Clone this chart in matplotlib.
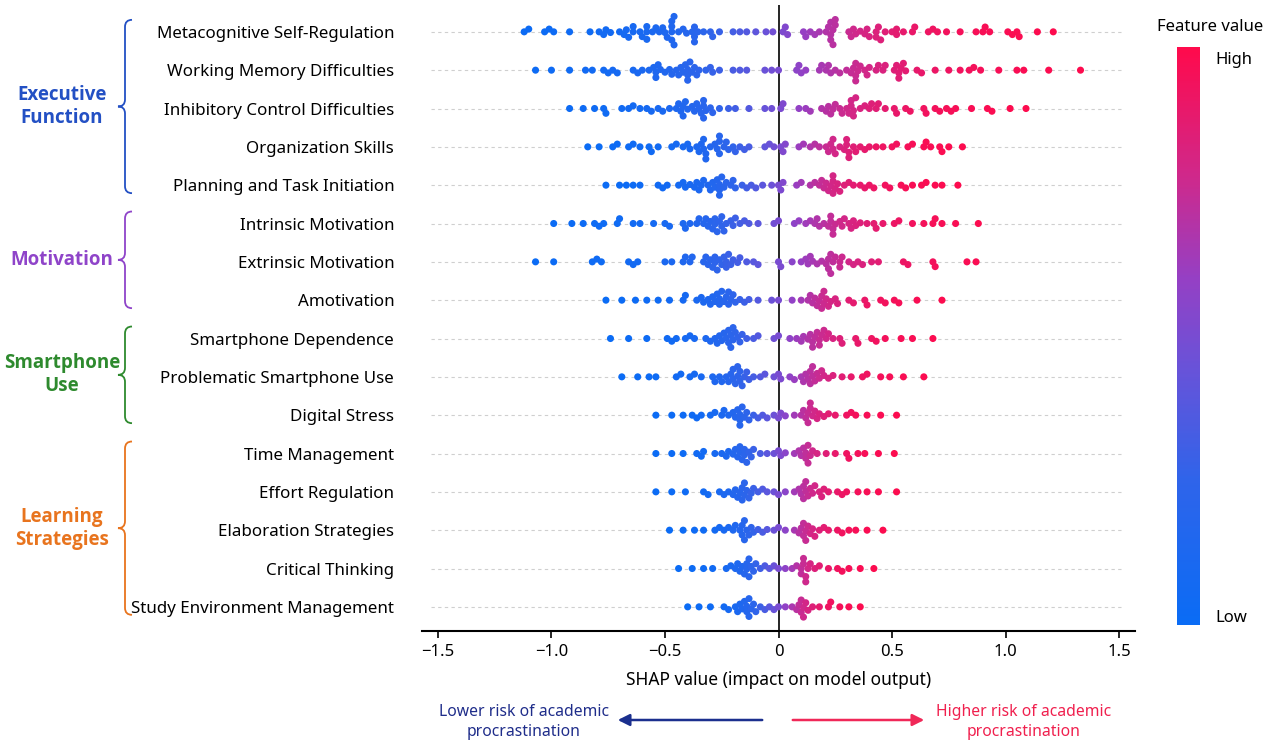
import numpy as np
import matplotlib
matplotlib.use("Agg")
import matplotlib.pyplot as plt
from matplotlib.colors import LinearSegmentedColormap, Normalize
from matplotlib.path import Path
from matplotlib.patches import PathPatch, FancyArrowPatch
from matplotlib.colorbar import ColorbarBase

plt.rcParams['font.family'] = ['Noto Sans', 'DejaVu Sans']

# ---------------- data ----------------
features = ["Metacognitive Self-Regulation", "Working Memory Difficulties",
            "Inhibitory Control Difficulties", "Organization Skills",
            "Planning and Task Initiation", "Intrinsic Motivation",
            "Extrinsic Motivation", "Amotivation", "Smartphone Dependence",
            "Problematic Smartphone Use", "Digital Stress", "Time Management",
            "Effort Regulation", "Elaboration Strategies", "Critical Thinking",
            "Study Environment Management"]

metacognitive = [-1.12,-1.10,-1.03,-1.01,-0.99,-0.92,-0.83,-0.79,-0.77,-0.76,-0.74,-0.70,-0.68,-0.67,-0.66,-0.64,-0.64,-0.61,-0.60,-0.58,-0.58,-0.58,-0.555,-0.54,-0.525,-0.51,-0.50,-0.49,-0.47,-0.47,-0.47,-0.47,-0.46,-0.46,-0.44,-0.42,-0.405,-0.38,-0.37,-0.37,-0.37,-0.355,-0.33,-0.30,-0.29,-0.26,-0.20,-0.17,-0.14,-0.10,-0.055,-0.025,
                 0.02,0.03,0.04,0.11,0.12,0.14,0.16,0.18,0.21,0.22,0.23,0.23,0.23,0.24,0.24,0.25,0.25,0.31,0.32,0.33,0.34,0.36,0.38,0.39,0.40,0.43,0.43,0.44,0.45,0.47,0.50,0.52,0.52,0.55,0.59,0.60,0.66,0.68,0.70,0.74,0.80,0.87,0.90,0.91,0.93,1.01,1.03,1.05,1.06,1.14,1.21]
working_memory = [-1.07,-1.0,-0.92,-0.85,-0.82,-0.77,-0.75,-0.73,-0.71,-0.64,-0.62,-0.60,-0.57,-0.55,-0.54,-0.54,-0.53,-0.52,-0.50,-0.48,-0.47,-0.45,-0.44,-0.43,-0.42,-0.41,-0.40,-0.40,-0.40,-0.39,-0.38,-0.37,-0.36,-0.35,-0.32,-0.30,-0.29,-0.26,-0.20,-0.17,-0.14,-0.06,-0.03,
                  0.0,0.08,0.09,0.10,0.12,0.18,0.19,0.21,0.22,0.23,0.25,0.27,0.30,0.32,0.33,0.34,0.34,0.34,0.35,0.36,0.38,0.39,0.40,0.43,0.44,0.46,0.47,0.51,0.52,0.53,0.53,0.54,0.55,0.56,0.61,0.63,0.69,0.75,0.80,0.84,0.86,0.89,0.97,1.05,1.08,1.19,1.33]
inhibitory = [-0.92,-0.86,-0.81,-0.77,-0.76,-0.69,-0.66,-0.64,-0.61,-0.58,-0.56,-0.53,-0.51,-0.48,-0.45,-0.44,-0.43,-0.42,-0.42,-0.41,-0.40,-0.38,-0.37,-0.36,-0.35,-0.34,-0.33,-0.33,-0.33,-0.32,-0.30,-0.29,-0.26,-0.22,-0.19,-0.13,-0.06,-0.03,
              0.01,0.02,0.09,0.12,0.14,0.19,0.21,0.22,0.23,0.24,0.25,0.27,0.28,0.30,0.31,0.32,0.32,0.33,0.33,0.34,0.36,0.38,0.40,0.41,0.43,0.44,0.47,0.51,0.52,0.56,0.58,0.64,0.65,0.69,0.71,0.74,0.76,0.78,0.85,0.92,0.94,1.02,1.09]
organization = [-0.84,-0.79,-0.73,-0.71,-0.66,-0.64,-0.61,-0.57,-0.56,-0.53,-0.47,-0.45,-0.42,-0.40,-0.39,-0.36,-0.35,-0.34,-0.33,-0.33,-0.32,-0.32,-0.30,-0.28,-0.27,-0.26,-0.26,-0.26,-0.24,-0.23,-0.22,-0.20,-0.19,-0.17,-0.15,-0.13,-0.06,-0.04,-0.02,
                0.01,0.02,0.03,0.09,0.11,0.14,0.16,0.18,0.21,0.22,0.23,0.24,0.24,0.25,0.27,0.29,0.30,0.30,0.31,0.31,0.33,0.34,0.36,0.38,0.40,0.43,0.46,0.50,0.52,0.57,0.59,0.64,0.65,0.67,0.71,0.72,0.75,0.81]
planning = [-0.76,-0.70,-0.67,-0.64,-0.61,-0.53,-0.51,-0.49,-0.44,-0.42,-0.41,-0.39,-0.37,-0.36,-0.35,-0.34,-0.33,-0.31,-0.30,-0.29,-0.28,-0.27,-0.26,-0.26,-0.26,-0.25,-0.24,-0.23,-0.21,-0.20,-0.19,-0.16,-0.14,-0.12,-0.10,-0.07,-0.03,
            0.0,0.01,0.02,0.08,0.10,0.14,0.16,0.18,0.19,0.20,0.21,0.22,0.23,0.24,0.24,0.24,0.25,0.26,0.27,0.29,0.31,0.33,0.36,0.38,0.40,0.42,0.47,0.49,0.54,0.56,0.59,0.63,0.65,0.69,0.72,0.79]
intrinsic = [-0.99,-0.91,-0.86,-0.81,-0.79,-0.77,-0.71,-0.70,-0.64,-0.61,-0.55,-0.50,-0.48,-0.42,-0.41,-0.39,-0.36,-0.35,-0.33,-0.32,-0.31,-0.30,-0.29,-0.28,-0.28,-0.27,-0.26,-0.25,-0.25,-0.24,-0.23,-0.21,-0.20,-0.19,-0.17,-0.15,-0.13,-0.09,-0.02,
             0.0,0.07,0.09,0.12,0.14,0.16,0.17,0.18,0.20,0.22,0.23,0.23,0.24,0.24,0.25,0.27,0.28,0.29,0.31,0.32,0.33,0.34,0.36,0.39,0.42,0.43,0.46,0.51,0.53,0.59,0.64,0.68,0.69,0.72,0.78,0.88]
extrinsic = [-1.07,-0.99,-0.82,-0.80,-0.78,-0.66,-0.64,-0.62,-0.50,-0.47,-0.42,-0.41,-0.39,-0.38,-0.33,-0.32,-0.31,-0.30,-0.29,-0.28,-0.28,-0.27,-0.26,-0.25,-0.24,-0.23,-0.23,-0.22,-0.21,-0.20,-0.18,-0.17,-0.14,-0.11,-0.09,
             0.0,0.01,0.06,0.10,0.12,0.13,0.14,0.15,0.17,0.19,0.21,0.22,0.22,0.23,0.23,0.24,0.25,0.27,0.27,0.28,0.31,0.33,0.35,0.37,0.41,0.44,0.55,0.57,0.68,0.69,0.83,0.87]
amotivation = [-0.76,-0.69,-0.63,-0.58,-0.53,-0.48,-0.42,-0.41,-0.36,-0.34,-0.33,-0.31,-0.30,-0.29,-0.28,-0.27,-0.26,-0.26,-0.25,-0.24,-0.23,-0.22,-0.22,-0.21,-0.20,-0.19,-0.17,-0.15,-0.13,-0.09,-0.03,
               0.0,0.06,0.10,0.13,0.14,0.15,0.16,0.17,0.18,0.19,0.19,0.20,0.20,0.21,0.22,0.23,0.25,0.26,0.31,0.33,0.38,0.39,0.45,0.47,0.51,0.53,0.61,0.72]
smartphone_dep = [-0.74,-0.66,-0.58,-0.49,-0.47,-0.45,-0.41,-0.39,-0.37,-0.32,-0.30,-0.28,-0.27,-0.26,-0.25,-0.24,-0.23,-0.22,-0.22,-0.21,-0.21,-0.20,-0.20,-0.19,-0.18,-0.17,-0.16,-0.14,-0.11,-0.09,-0.02,
                  0.0,0.05,0.08,0.10,0.11,0.13,0.14,0.15,0.15,0.16,0.17,0.18,0.18,0.19,0.20,0.21,0.22,0.24,0.27,0.28,0.34,0.35,0.41,0.43,0.47,0.54,0.59,0.68]
problematic_use = [-0.69,-0.62,-0.57,-0.54,-0.45,-0.43,-0.39,-0.37,-0.34,-0.29,-0.28,-0.26,-0.25,-0.23,-0.22,-0.21,-0.20,-0.20,-0.19,-0.18,-0.18,-0.17,-0.17,-0.16,-0.15,-0.14,-0.13,-0.11,-0.08,-0.06,-0.02,
                   0.0,0.01,0.05,0.07,0.10,0.11,0.12,0.13,0.14,0.14,0.15,0.15,0.16,0.17,0.18,0.19,0.20,0.22,0.24,0.28,0.32,0.37,0.39,0.45,0.49,0.55,0.64]
digital_stress = [-0.54,-0.47,-0.42,-0.38,-0.36,-0.34,-0.30,-0.28,-0.25,-0.24,-0.22,-0.20,-0.19,-0.18,-0.17,-0.17,-0.17,-0.16,-0.15,-0.14,-0.13,-0.11,-0.09,-0.07,-0.05,-0.02,
                  0.0,0.01,0.03,0.07,0.10,0.11,0.12,0.13,0.13,0.14,0.14,0.15,0.16,0.17,0.18,0.20,0.22,0.25,0.30,0.32,0.34,0.39,0.45,0.52]
time_management = [-0.54,-0.47,-0.42,-0.36,-0.34,-0.33,-0.28,-0.25,-0.23,-0.22,-0.20,-0.19,-0.18,-0.17,-0.17,-0.16,-0.15,-0.15,-0.14,-0.13,-0.12,-0.11,-0.08,-0.05,-0.02,
                   0.0,0.01,0.03,0.07,0.09,0.10,0.11,0.12,0.12,0.13,0.13,0.14,0.15,0.17,0.21,0.25,0.30,0.31,0.35,0.38,0.44,0.51]
effort_regulation = [-0.54,-0.47,-0.41,-0.33,-0.31,-0.26,-0.24,-0.22,-0.20,-0.19,-0.18,-0.17,-0.16,-0.16,-0.15,-0.15,-0.14,-0.13,-0.12,-0.11,-0.09,-0.07,-0.05,-0.02,
                     0.0,0.03,0.07,0.09,0.10,0.11,0.11,0.12,0.12,0.13,0.14,0.15,0.16,0.18,0.19,0.20,0.22,0.26,0.28,0.30,0.35,0.39,0.44,0.52]
elaboration = [-0.48,-0.42,-0.37,-0.33,-0.28,-0.26,-0.24,-0.22,-0.20,-0.19,-0.17,-0.16,-0.16,-0.15,-0.15,-0.14,-0.13,-0.12,-0.11,-0.09,-0.07,-0.05,-0.02,
               0.0,0.03,0.07,0.09,0.10,0.11,0.11,0.12,0.12,0.13,0.14,0.15,0.16,0.18,0.20,0.22,0.26,0.28,0.31,0.34,0.39,0.46]
critical_thinking = [-0.44,-0.38,-0.33,-0.29,-0.23,-0.21,-0.19,-0.18,-0.17,-0.16,-0.15,-0.14,-0.14,-0.13,-0.13,-0.12,-0.11,-0.10,-0.08,-0.06,-0.04,-0.02,
                     0.0,0.03,0.06,0.08,0.10,0.10,0.11,0.11,0.12,0.12,0.13,0.14,0.16,0.18,0.22,0.26,0.28,0.31,0.36,0.42]
study_env = [-0.40,-0.35,-0.30,-0.24,-0.22,-0.19,-0.18,-0.17,-0.16,-0.15,-0.14,-0.14,-0.13,-0.13,-0.12,-0.11,-0.10,-0.08,-0.06,-0.04,-0.02,
             0.0,0.03,0.06,0.08,0.09,0.10,0.10,0.11,0.11,0.12,0.13,0.15,0.18,0.22,0.23,0.27,0.31,0.36]

shap_rows = [metacognitive, working_memory, inhibitory, organization, planning,
             intrinsic, extrinsic, amotivation, smartphone_dep, problematic_use,
             digital_stress, time_management, effort_regulation, elaboration,
             critical_thinking, study_env]

group_names = ["Executive\nFunction", "Motivation", "Smartphone\nUse", "Learning\nStrategies"]
group_first = [0, 5, 8, 11]
group_last = [4, 7, 10, 15]
group_colors = ["#2350c4", "#8f44c9", "#2e8a2e", "#e8741e"]

xticks = [-1.5, -1.0, -0.5, 0, 0.5, 1.0, 1.5]
xticklabels = ["\u22121.5", "\u22121.0", "\u22120.5", "0", "0.5", "1.0", "1.5"]

# ---------------- layout ----------------
W, H = 1271, 744
fig = plt.figure(figsize=(W / 100, H / 100), dpi=100)
ax_l, ax_r, ax_t, ax_b = 422, 1135, 5, 631
ax = fig.add_axes([ax_l / W, 1 - ax_b / H, (ax_r - ax_l) / W, (ax_b - ax_t) / H])
xmin, xmax = -1.57, 1.57
ymin, ymax = 15.63, -0.70
ax.set_xlim(xmin, xmax)
ax.set_ylim(ymin, ymax)

xs_px = (ax_r - ax_l) / (xmax - xmin)
ys_px = (ax_b - ax_t) / (ymin - ymax)

cmap = LinearSegmentedColormap.from_list(
    "shapcol", [(0.0, "#0a6cf5"), (0.25, "#2f64ea"), (0.45, "#6a52d8"),
                (0.6, "#9540c4"), (0.78, "#d0288a"), (1.0, "#ff0a4c")])


def swarm(vals, d=5.3):
    vals = np.asarray(vals, dtype=float)
    xp = vals * xs_px
    order = np.argsort(xp, kind="stable")
    placed = []
    out = np.zeros(len(vals))
    flip = 1
    for i in order:
        x = xp[i]
        near = [(a, b) for a, b in placed if abs(a - x) < d]
        cands = [0.0]
        for a, b in near:
            dy = np.sqrt(d * d - (a - x) ** 2)
            cands += [b + dy, b - dy]
        cands.sort(key=lambda c: (round(abs(c), 3), -flip * c))
        for c in cands:
            if all((a - x) ** 2 + (b - c) ** 2 >= d * d - 1e-6 for a, b in near):
                out[i] = c
                break
        flip = -flip
        placed.append((x, out[i]))
    return out / ys_px


ax.hlines(range(len(features)), -1.53, 1.52, colors="#cfcfcf",
          linestyles=(0, (3, 3)), linewidth=0.8, zorder=0)
ax.axvline(0, color="black", linewidth=1.2, zorder=1)

for r, vals in enumerate(shap_rows):
    v = np.asarray(vals)
    s = 0.45 * np.max(np.abs(v))
    f = 0.5 + 0.5 * np.tanh(v / s)
    ax.scatter(v, r + swarm(v), c=cmap(f), s=26, linewidths=0, zorder=3)

for sp in ["top", "right", "left"]:
    ax.spines[sp].set_visible(False)
ax.spines["bottom"].set_linewidth(1.5)
ax.set_xticks(xticks)
ax.set_xticklabels(xticklabels, fontsize=12)
ax.tick_params(axis="x", length=5, width=1.2, pad=4)
ax.set_yticks(range(len(features)))
ax.set_yticklabels(features, fontsize=12.2)
ax.tick_params(axis="y", length=0, pad=20)
ax.set_xlabel("SHAP value (impact on model output)", fontsize=12.5, labelpad=8)

# ---------------- colour bar ----------------
cax = fig.add_axes([1177 / W, 1 - 625 / H, 23 / W, (625 - 47) / H])
cb = ColorbarBase(cax, cmap=cmap, norm=Normalize(0, 1), orientation="vertical")
cb.outline.set_visible(False)
cb.set_ticks([])
fig.text(1210 / W, 1 - 27 / H, "Feature value", ha="center", va="center", fontsize=12)
fig.text(1215 / W, 1 - 60 / H, "High", ha="left", va="center", fontsize=12)
fig.text(1215 / W, 1 - 618 / H, "Low", ha="left", va="center", fontsize=12)


# ---------------- group braces ----------------
def row_px(r):
    return ax_t + (r - ymax) * ys_px


def brace(x, y0, y1, color):
    ym = (y0 + y1) / 2
    c = 7
    pts = [(x + c, y0), (x, y0), (x, y0 + c), (x, ym - c), (x, ym), (x - c, ym),
           (x, ym), (x, ym + c), (x, y1 - c), (x, y1), (x + c, y1)]
    codes = [Path.MOVETO, Path.CURVE3, Path.CURVE3, Path.LINETO, Path.CURVE3, Path.CURVE3,
             Path.CURVE3, Path.CURVE3, Path.LINETO, Path.CURVE3, Path.CURVE3]
    fpts = [(px / W, 1 - py / H) for px, py in pts]
    patch = PathPatch(Path(fpts, codes), transform=fig.transFigure, fill=False,
                      edgecolor=color, linewidth=1.3)
    fig.patches.append(patch)
    return ym


for name, a, b, col in zip(group_names, group_first, group_last, group_colors):
    y0 = row_px(a) - 12
    y1 = row_px(b) + 8
    ym = brace(125, y0, y1, col)
    fig.text(62 / W, 1 - ym / H, name, ha="center", va="center", fontsize=13.5,
             color=col, fontweight="bold", linespacing=1.2,
             family=["Open Sans", "Lato", "DejaVu Sans"])

# ---------------- risk arrows ----------------
arr_y = 1 - 720 / H
fig.patches.append(FancyArrowPatch((765 / W, arr_y), (615 / W, arr_y), transform=fig.transFigure,
                                   arrowstyle="-|>,head_length=7,head_width=3.5",
                                   color="#1b2f8e", linewidth=1.8))
fig.patches.append(FancyArrowPatch((790 / W, arr_y), (927 / W, arr_y), transform=fig.transFigure,
                                   arrowstyle="-|>,head_length=7,head_width=3.5",
                                   color="#f02858", linewidth=1.8))
fig.text(524 / W, 1 - 722 / H, "Lower risk of academic\nprocrastination", ha="center",
         va="center", fontsize=11.3, color="#1f2d8a", linespacing=1.35)
fig.text(1024 / W, 1 - 722 / H, "Higher risk of academic\nprocrastination", ha="center",
         va="center", fontsize=11.3, color="#f0204e", linespacing=1.35)

fig.savefig("out.png", dpi=100)
